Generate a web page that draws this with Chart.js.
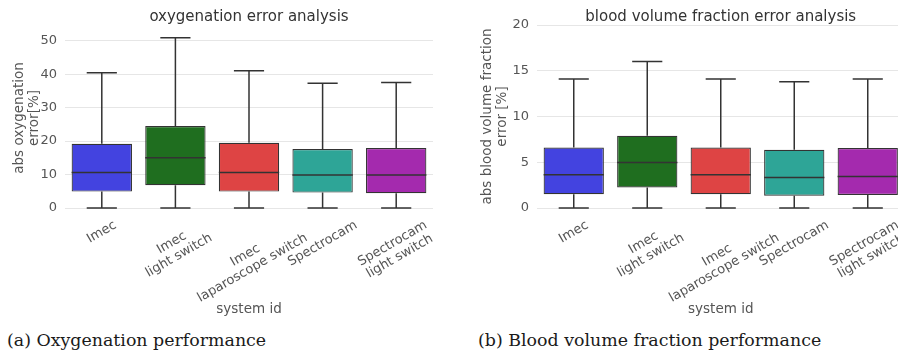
<!DOCTYPE html>
<html>
<head>
<meta charset="utf-8">
<script src="https://cdn.jsdelivr.net/npm/chart.js@4"></script>
<style>
  html, body { margin: 0; padding: 0; background: #fff; overflow: hidden; }
  body { width: 898px; height: 357px; position: relative; }
  .panel { position: absolute; top: 0; height: 318px; }
  #left { left: 0; width: 440px; }
  #right { left: 450px; width: 460px; }
  .caption { position: absolute; top: 330px; font-family: "DejaVu Serif", serif; font-size: 17.4px; color: #1a1a1a; white-space: nowrap; }
</style>
</head>
<body>
<div class="panel" id="left"><canvas id="oxyChart"></canvas></div>
<div class="panel" id="right"><canvas id="bvfChart"></canvas></div>
<div class="caption" style="left:7px">(a) Oxygenation performance</div>
<div class="caption" style="left:478px">(b) Blood volume fraction performance</div>
<script>
// system ids (one entry per box, split into lines)
const systems = [
  ['Imec'],
  ['Imec', 'light switch'],
  ['Imec', 'laparoscope switch'],
  ['Spectrocam'],
  ['Spectrocam', 'light switch']
];
const boxColors = ['#4343e0', '#1f6e1f', '#de4444', '#2ea597', '#a42aae'];

// oxygenation error [%]
const oxyMin = [0, 0, 0, 0, 0];
const oxyQ1 = [4.9, 6.8, 4.9, 4.6, 4.4];
const oxyMedian = [10.6, 15.0, 10.6, 9.9, 9.9];
const oxyQ3 = [19.2, 24.5, 19.5, 17.6, 17.9];
const oxyMax = [40.4, 50.9, 41.0, 37.3, 37.5];
const oxyTicks = [0, 10, 20, 30, 40, 50];

// blood volume fraction error [%]
const bvfMin = [0, 0, 0, 0, 0];
const bvfQ1 = [1.5, 2.25, 1.5, 1.34, 1.42];
const bvfMedian = [3.64, 4.98, 3.64, 3.34, 3.45];
const bvfQ3 = [6.62, 7.9, 6.62, 6.37, 6.56];
const bvfMax = [14.1, 16.0, 14.1, 13.8, 14.1];
const bvfTicks = [0, 5, 10, 15, 20];

Chart.defaults.font.family = '"DejaVu Sans", sans-serif';
Chart.defaults.color = '#555';

// whiskers, caps and median line on top of the floating bars
function whiskerPlugin(mins, medians, maxs) {
  return {
    id: 'whiskers',
    afterDatasetsDraw(chart) {
      const ctx = chart.ctx;
      const ys = chart.scales.y;
      const meta = chart.getDatasetMeta(0);
      ctx.save();
      ctx.strokeStyle = '#333';
      ctx.lineWidth = 1.5;
      meta.data.forEach((bar, i) => {
        const x = bar.x;
        const half = bar.width / 2;
        const cap = bar.width / 4;
        const yTop = ys.getPixelForValue(maxs[i]);
        const yBot = ys.getPixelForValue(mins[i]);
        const yMed = ys.getPixelForValue(medians[i]);
        const boxTop = Math.min(bar.y, bar.base);
        const boxBot = Math.max(bar.y, bar.base);
        ctx.beginPath();
        ctx.moveTo(x, boxTop); ctx.lineTo(x, yTop);
        ctx.moveTo(x - cap, yTop); ctx.lineTo(x + cap, yTop);
        ctx.moveTo(x, boxBot); ctx.lineTo(x, yBot);
        ctx.moveTo(x - cap, yBot); ctx.lineTo(x + cap, yBot);
        ctx.stroke();
        ctx.beginPath();
        ctx.moveTo(x - half, yMed); ctx.lineTo(x + half, yMed);
        ctx.stroke();
      });
      ctx.restore();
    }
  };
}

// rotated, centred x labels (matplotlib style)
const xLabelPlugin = {
  id: 'rotatedLabels',
  afterDraw(chart) {
    const xs = chart.scales.x;
    const ctx = chart.ctx;
    const ang = 30 * Math.PI / 180;
    const lh = 14.5;
    ctx.save();
    ctx.font = '13px "DejaVu Sans"';
    ctx.fillStyle = '#555';
    ctx.textAlign = 'center';
    ctx.textBaseline = 'middle';
    systems.forEach((lines, i) => {
      const w = Math.max(...lines.map(l => ctx.measureText(l).width));
      const h = lines.length * lh;
      const H = w * Math.sin(ang) + h * Math.cos(ang);
      const cx = xs.getPixelForValue(i);
      const cy = xs.top + 10 + H / 2;
      ctx.save();
      ctx.translate(cx, cy);
      ctx.rotate(-ang);
      lines.forEach((l, k) => ctx.fillText(l, 0, (k - (lines.length - 1) / 2) * lh));
      ctx.restore();
    });
    ctx.restore();
  }
};

function makeBoxChart(id, opts) {
  return new Chart(document.getElementById(id), {
    type: 'bar',
    data: {
      labels: systems,
      datasets: [{
        data: opts.q1.map((q, i) => [q, opts.q3[i]]),
        backgroundColor: boxColors,
        borderColor: '#333',
        borderWidth: 1.2,
        borderSkipped: false,
        barPercentage: 0.82,
        categoryPercentage: 1
      }]
    },
    options: {
      responsive: true,
      maintainAspectRatio: false,
      animation: false,
      layout: { padding: { left: opts.padLeft, right: opts.padRight, top: 0, bottom: 0 } },
      plugins: {
        legend: { display: false },
        tooltip: { enabled: false },
        title: {
          display: true,
          fullSize: false,
          text: opts.title,
          color: '#333',
          font: { size: 15, weight: 'normal', lineHeight: 1 },
          padding: { top: 10, bottom: opts.titleGap }
        }
      },
      scales: {
        x: {
          grid: { display: false },
          border: { display: false },
          ticks: { display: false },
          title: { display: true, text: 'system id', color: '#555', font: { size: 13.5 }, padding: { top: 0, bottom: 0 } },
          afterFit: (s) => { s.height = 110; }
        },
        y: {
          min: 0,
          max: opts.max,
          grid: { color: '#e6e6e6', drawTicks: false },
          border: { display: false },
          ticks: { padding: 8, font: { size: 13 }, color: '#555' },
          afterBuildTicks: (s) => { s.ticks = opts.ticks.map(v => ({ value: v })); },
          title: { display: true, text: opts.yTitle, color: '#555', font: { size: 13.5, lineHeight: 1.1 }, padding: { top: 0, bottom: 0 } },
          afterFit: (s) => { s.width = opts.yWidth; }
        }
      }
    },
    plugins: [whiskerPlugin(opts.min, opts.median, opts.maxs), xLabelPlugin]
  });
}

makeBoxChart('oxyChart', {
  title: 'oxygenation error analysis',
  yTitle: ['abs oxygenation', 'error[%]'],
  q1: oxyQ1, q3: oxyQ3, min: oxyMin, median: oxyMedian, maxs: oxyMax,
  ticks: oxyTicks, max: 53.8,
  padLeft: 12, padRight: 7, yWidth: 53, titleGap: 3
});

makeBoxChart('bvfChart', {
  title: 'blood volume fraction error analysis',
  yTitle: ['abs blood volume fraction', 'error [%]'],
  q1: bvfQ1, q3: bvfQ3, min: bvfMin, median: bvfMedian, maxs: bvfMax,
  ticks: bvfTicks, max: 20,
  padLeft: 30, padRight: 5.5, yWidth: 57, titleGap: 0
});
</script>
</body>
</html>
